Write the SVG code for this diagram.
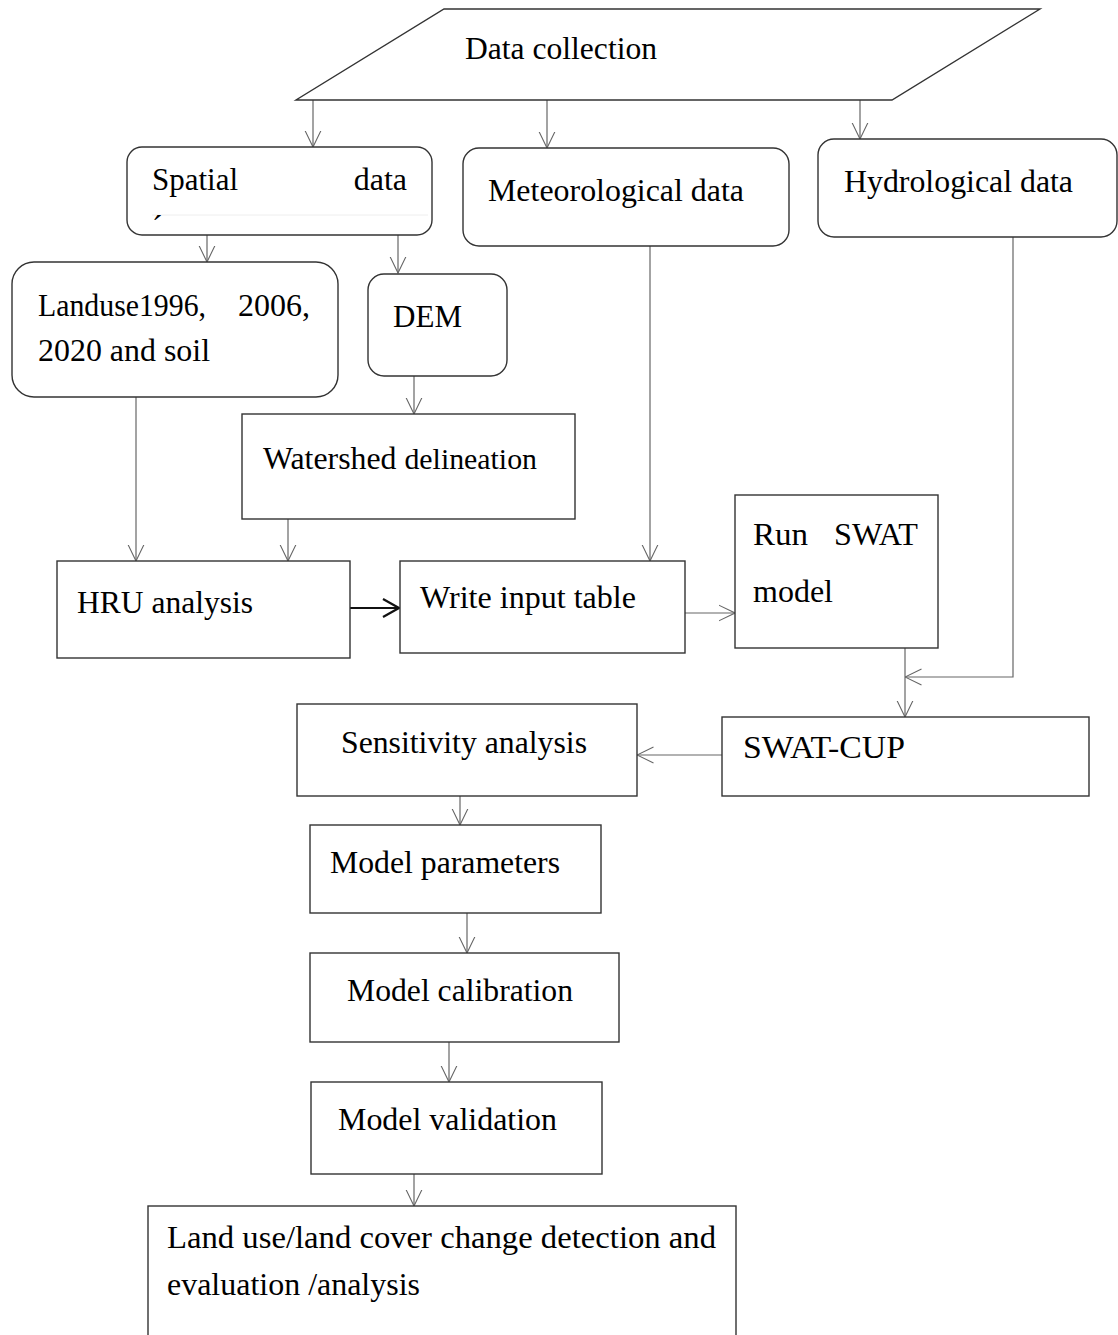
<svg xmlns="http://www.w3.org/2000/svg" width="1118" height="1335" viewBox="0 0 1118 1335">
<style>
  .box{fill:#fff;stroke:#333;stroke-width:1.4}
  .t{font-family:"Liberation Serif","Times New Roman",serif;font-size:32px;fill:#000}
  .c{fill:none;stroke:#666;stroke-width:1.2}
  .ck{fill:none;stroke:#111;stroke-width:2.2}
</style>
<defs>
  <marker id="a" markerUnits="userSpaceOnUse" viewBox="0 0 17 18" refX="16.5" refY="9" markerWidth="17" markerHeight="18" orient="auto">
    <path d="M0,1 L16.5,9 L0,17" fill="none" stroke="#666" stroke-width="1.1"/>
  </marker>
  <marker id="ak" markerUnits="userSpaceOnUse" viewBox="0 0 18 22" refX="17" refY="11" markerWidth="18" markerHeight="22" orient="auto">
    <path d="M1,2 L17,11 L1,20" fill="none" stroke="#111" stroke-width="2.2"/>
  </marker>
</defs>
<rect width="1118" height="1335" fill="#fff"/>

<g id="connectors">
  <path class="c" d="M313,100 V147" marker-end="url(#a)"/>
  <path class="c" d="M547,100 V148" marker-end="url(#a)"/>
  <path class="c" d="M860,100 V139" marker-end="url(#a)"/>
  <path class="c" d="M207,235 V262" marker-end="url(#a)"/>
  <path class="c" d="M398,235 V273" marker-end="url(#a)"/>
  <path class="c" d="M414,376 V414" marker-end="url(#a)"/>
  <path class="c" d="M136,397 V561" marker-end="url(#a)"/>
  <path class="c" d="M288,519 V561" marker-end="url(#a)"/>
  <path class="c" d="M650,246 V561" marker-end="url(#a)"/>
  <path class="ck" d="M350,608 H399" marker-end="url(#ak)"/>
  <path class="c" d="M685,613 H735" marker-end="url(#a)"/>
  <path class="c" d="M1013,237 V677 H905" marker-end="url(#a)"/>
  <path class="c" d="M905,648 V717" marker-end="url(#a)"/>
  <path class="c" d="M722,755 H637" marker-end="url(#a)"/>
  <path class="c" d="M460,796 V825" marker-end="url(#a)"/>
  <path class="c" d="M467,913 V953" marker-end="url(#a)"/>
  <path class="c" d="M449,1042 V1082" marker-end="url(#a)"/>
  <path class="c" d="M414,1174 V1206" marker-end="url(#a)"/>
</g>

<g id="data-collection">
  <polygon class="box" points="444,9 1040,9 892,100 296,100"/>
  <text class="t" x="465" y="59" textLength="192" lengthAdjust="spacingAndGlyphs">Data collection</text>
</g>

<g id="spatial-data">
  <rect class="box" x="127" y="147" width="305" height="88" rx="15"/>
  <line x1="152" y1="215" x2="428" y2="215" stroke="#eee" stroke-width="1"/>
  <text class="t" x="152" y="190" textLength="86" lengthAdjust="spacingAndGlyphs">Spatial</text>
  <text class="t" x="407" y="190" text-anchor="end">data</text>
  <text class="t" x="152" y="237">´</text>
</g>

<g id="meteorological-data">
  <rect class="box" x="463" y="148" width="326" height="98" rx="16"/>
  <text class="t" x="488" y="201" textLength="256" lengthAdjust="spacingAndGlyphs">Meteorological data</text>
</g>

<g id="hydrological-data">
  <rect class="box" x="818" y="139" width="299" height="98" rx="16"/>
  <text class="t" x="844" y="192" textLength="229" lengthAdjust="spacingAndGlyphs">Hydrological data</text>
</g>

<g id="landuse">
  <rect class="box" x="12" y="262" width="326" height="135" rx="22"/>
  <text class="t" x="38" y="316" textLength="168" lengthAdjust="spacingAndGlyphs">Landuse1996,</text>
  <text class="t" x="238" y="316" textLength="72" lengthAdjust="spacingAndGlyphs">2006,</text>
  <text class="t" x="38" y="361" textLength="172" lengthAdjust="spacingAndGlyphs">2020 and soil</text>
</g>

<g id="dem">
  <rect class="box" x="368" y="274" width="139" height="102" rx="16"/>
  <text class="t" x="393" y="327" textLength="69" lengthAdjust="spacingAndGlyphs">DEM</text>
</g>

<g id="watershed-delineation">
  <rect class="box" x="242" y="414" width="333" height="105"/>
  <text class="t" x="263" y="469" textLength="274" lengthAdjust="spacingAndGlyphs">Watershed <tspan font-size="30">delineation</tspan></text>
</g>

<g id="hru-analysis">
  <rect class="box" x="57" y="561" width="293" height="97"/>
  <text class="t" x="77" y="613" textLength="176" lengthAdjust="spacingAndGlyphs">HRU analysis</text>
</g>

<g id="write-input-table">
  <rect class="box" x="400" y="561" width="285" height="92"/>
  <text class="t" x="420" y="608" textLength="216" lengthAdjust="spacingAndGlyphs">Write input table</text>
</g>

<g id="run-swat-model">
  <rect class="box" x="735" y="495" width="203" height="153"/>
  <text class="t" x="753" y="545" textLength="55" lengthAdjust="spacingAndGlyphs">Run</text>
  <text class="t" x="834" y="545" textLength="84" lengthAdjust="spacingAndGlyphs">SWAT</text>
  <text class="t" x="753" y="602" textLength="80" lengthAdjust="spacingAndGlyphs">model</text>
</g>

<g id="swat-cup">
  <rect class="box" x="722" y="717" width="367" height="79"/>
  <text class="t" x="743" y="758" textLength="162" lengthAdjust="spacingAndGlyphs">SWAT-CUP</text>
</g>

<g id="sensitivity-analysis">
  <rect class="box" x="297" y="704" width="340" height="92"/>
  <text class="t" x="341" y="753" textLength="246" lengthAdjust="spacingAndGlyphs">Sensitivity analysis</text>
</g>

<g id="model-parameters">
  <rect class="box" x="310" y="825" width="291" height="88"/>
  <text class="t" x="330" y="873" textLength="230" lengthAdjust="spacingAndGlyphs">Model parameters</text>
</g>

<g id="model-calibration">
  <rect class="box" x="310" y="953" width="309" height="89"/>
  <text class="t" x="347" y="1001" textLength="226" lengthAdjust="spacingAndGlyphs">Model calibration</text>
</g>

<g id="model-validation">
  <rect class="box" x="311" y="1082" width="291" height="92"/>
  <text class="t" x="338" y="1130" textLength="219" lengthAdjust="spacingAndGlyphs">Model validation</text>
</g>

<g id="lulc-change">
  <rect class="box" x="148" y="1206" width="588" height="150"/>
  <text class="t" x="167" y="1248" textLength="549" lengthAdjust="spacingAndGlyphs">Land use/land cover change detection and</text>
  <text class="t" x="167" y="1295" textLength="253" lengthAdjust="spacingAndGlyphs">evaluation /analysis</text>
</g>
</svg>
